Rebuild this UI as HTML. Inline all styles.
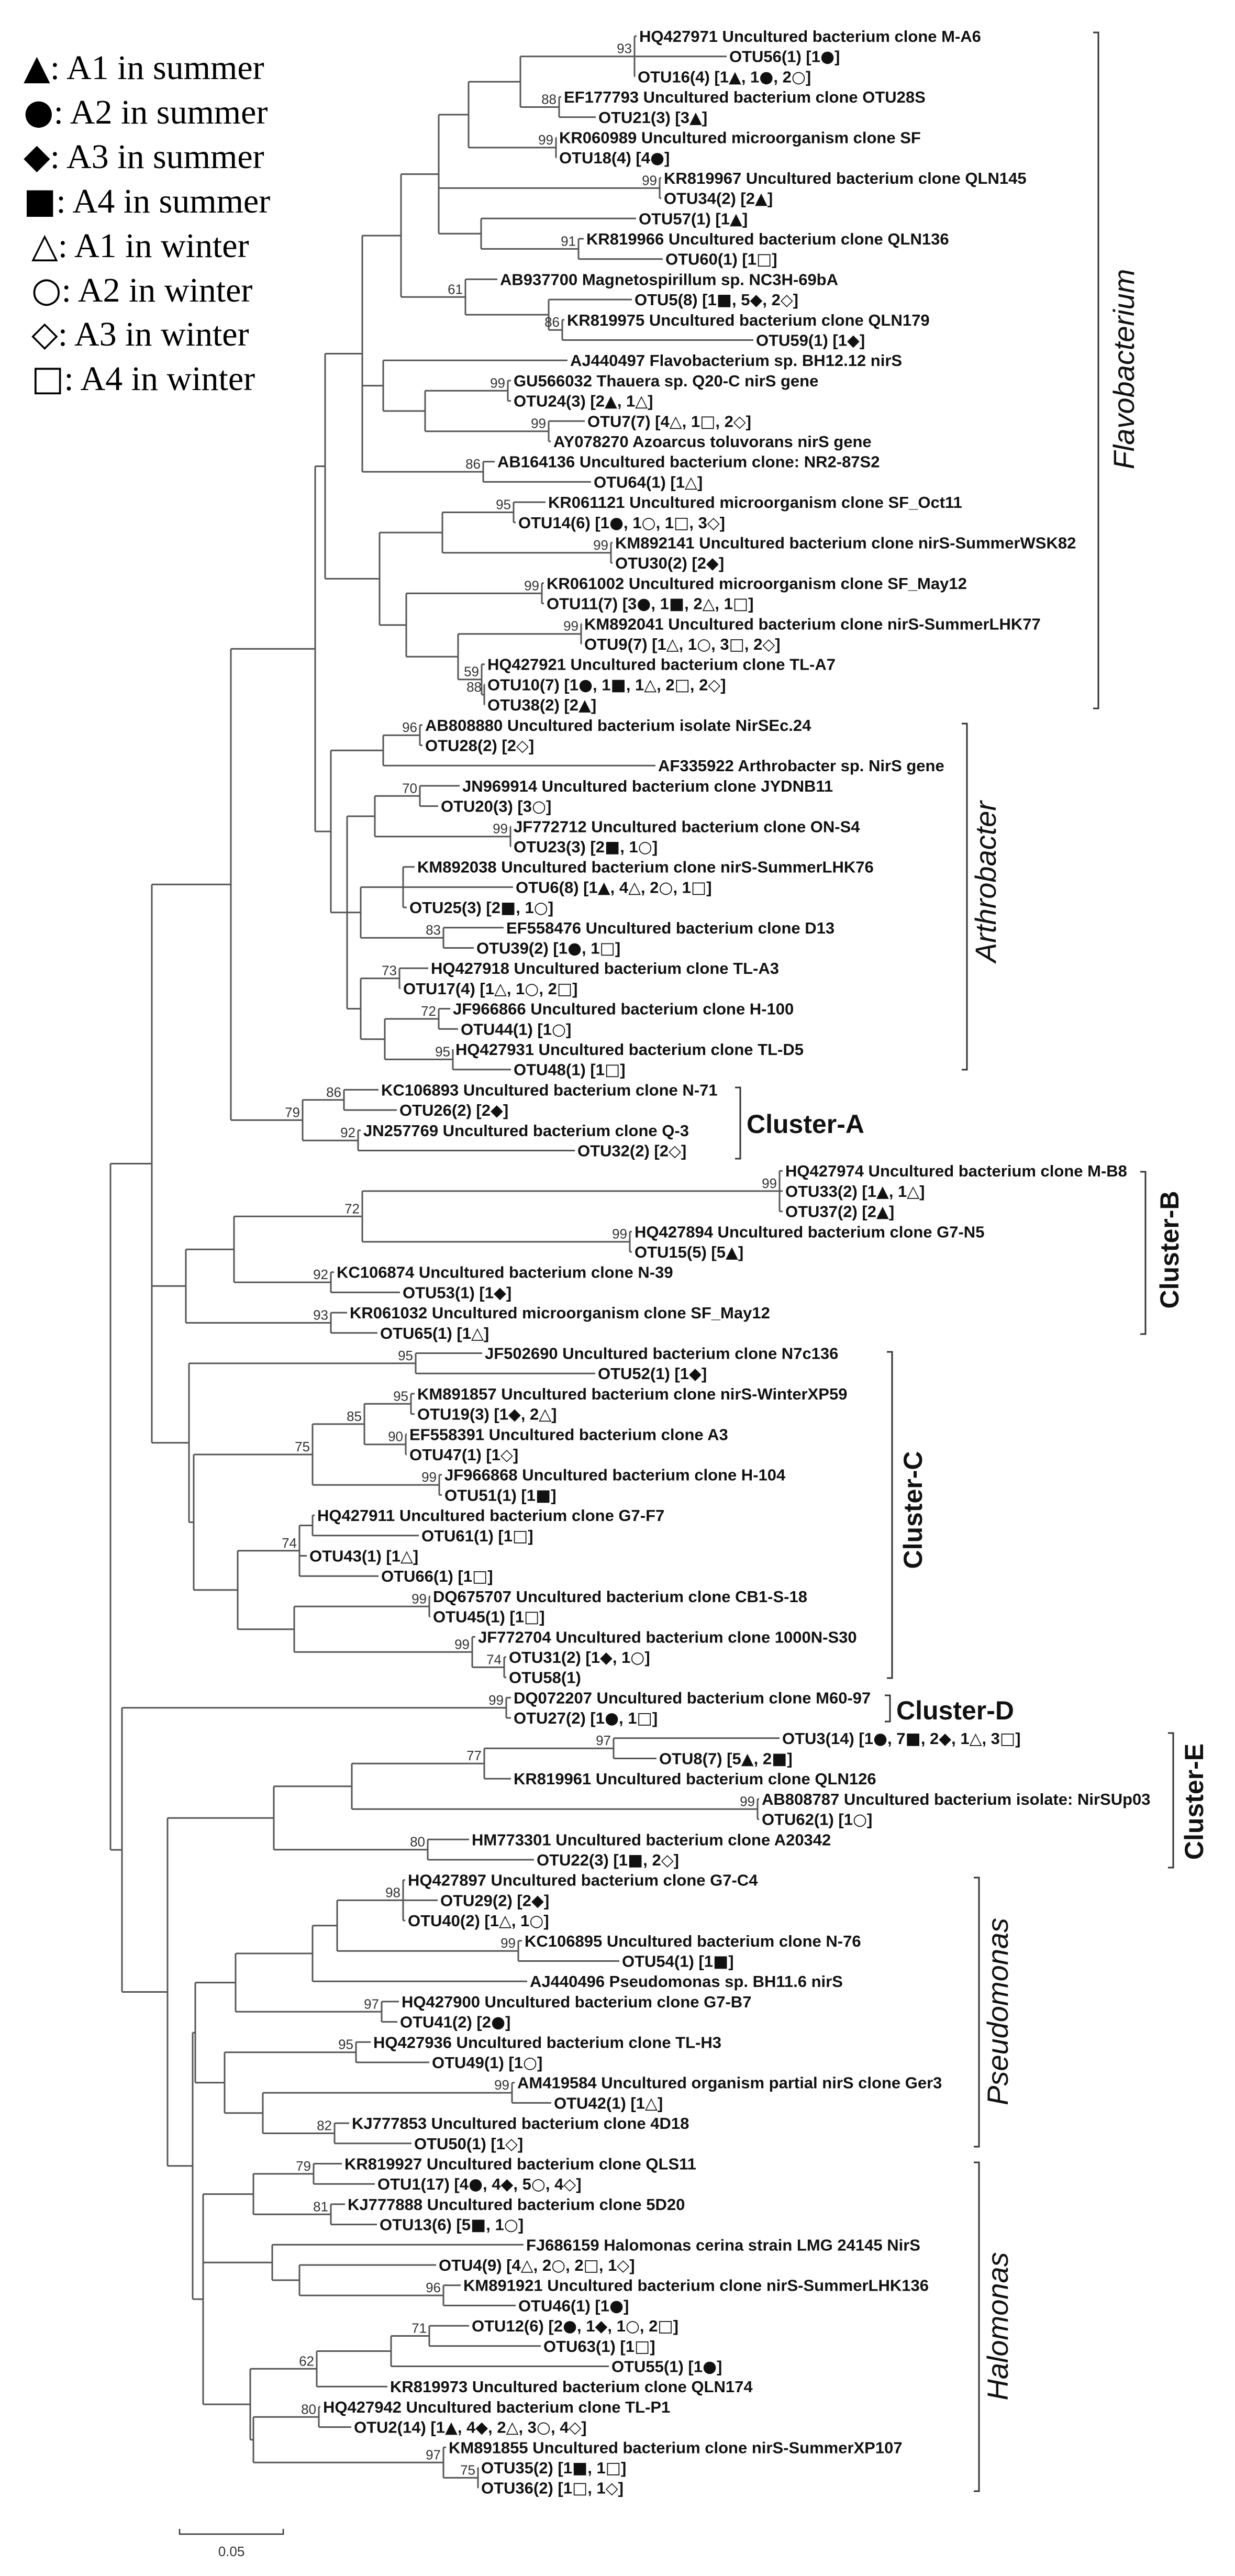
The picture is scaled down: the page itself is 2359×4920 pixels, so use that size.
<!DOCTYPE html>
<html><head><meta charset="utf-8">
<style>
html,body{margin:0;padding:0;background:#fff;}
svg{display:block;}
.lf{font-family:"Liberation Sans","DejaVu Sans",sans-serif;font-weight:bold;font-size:31px;fill:#111;}
.bs{font-family:"Liberation Sans","DejaVu Sans",sans-serif;font-size:26px;fill:#333;}
.lg{font-family:"Liberation Serif","DejaVu Serif",serif;font-size:66px;fill:#000;}
.sy{font-family:"DejaVu Sans",sans-serif;}
.cl{font-family:"Liberation Sans","DejaVu Sans",sans-serif;font-size:56px;font-style:italic;fill:#111;}
.cb{font-family:"Liberation Sans","DejaVu Sans",sans-serif;font-size:50px;font-weight:bold;fill:#111;}
</style></head>
<body>
<svg id="s" xmlns="http://www.w3.org/2000/svg" width="2359" height="4920" viewBox="0 0 2359 4920">
<rect width="2359" height="4920" fill="#fff"/>
<g class="lg">
<text x="45" y="151"><tspan class="sy">▲</tspan>: A1 in summer</text>
<text x="45" y="236"><tspan class="sy">●</tspan>: A2 in summer</text>
<text x="45" y="321"><tspan class="sy">◆</tspan>: A3 in summer</text>
<text x="45" y="406"><tspan class="sy">■</tspan>: A4 in summer</text>
<text x="60" y="491"><tspan class="sy">△</tspan>: A1 in winter</text>
<text x="60" y="576"><tspan class="sy">○</tspan>: A2 in winter</text>
<text x="60" y="660"><tspan class="sy">◇</tspan>: A3 in winter</text>
<text x="60" y="745"><tspan class="sy">□</tspan>: A4 in winter</text>
</g>
<g id="tree"></g>
<g fill="none" stroke="#333" stroke-width="3">
<path d="M2088 62H2098V1353H2088"/>
<path d="M1837 1382H1847V2043H1837"/>
<path d="M1404 2077H1414V2213H1404"/>
<path d="M2178 2238H2188V2548H2178"/>
<path d="M1694 2582H1704V3205H1694"/>
<path d="M1690 3238H1700V3288H1690"/>
<path d="M2231 3310H2241V3567H2231"/>
<path d="M1860 3586H1870V4100H1860"/>
<path d="M1860 4130H1870V4758H1860"/>
<path d="M343 4830V4840H541V4830" stroke-width="2.5"/>
</g>
<text class="bs" x="442" y="4882" text-anchor="middle">0.05</text>
<text class="cl" transform="translate(2166,705) rotate(-90)" text-anchor="middle">Flavobacterium</text>
<text class="cl" transform="translate(1902,1684) rotate(-90)" text-anchor="middle">Arthrobacter</text>
<text class="cl" transform="translate(1925,3842) rotate(-90)" text-anchor="middle">Pseudomonas</text>
<text class="cl" transform="translate(1925,4443) rotate(-90)" text-anchor="middle">Halomonas</text>
<text class="cb" x="1426" y="2164">Cluster-A</text>
<text class="cb" transform="translate(2251,2387) rotate(-90)" text-anchor="middle">Cluster-B</text>
<text class="cb" transform="translate(1761,2884) rotate(-90)" text-anchor="middle">Cluster-C</text>
<text class="cb" x="1712" y="3284">Cluster-D</text>
<text class="cb" transform="translate(2298,3441) rotate(-90)" text-anchor="middle">Cluster-E</text>
</svg>
<script>
(function(){
var L=[
["HQ427971 Uncultured bacterium clone M-A6",1221],["OTU56(1) [1●]",1393],["OTU16(4) [1▲, 1●, 2○]",1218],
["EF177793 Uncultured bacterium clone OTU28S",1077],["OTU21(3) [3▲]",1143],["KR060989 Uncultured microorganism clone SF",1068],
["OTU18(4) [4●]",1068],["KR819967 Uncultured bacterium clone QLN145",1268],["OTU34(2) [2▲]",1268],
["OTU57(1) [1▲]",1220],["KR819966 Uncultured bacterium clone QLN136",1120],["OTU60(1) [1□]",1271],
["AB937700 Magnetospirillum sp. NC3H-69bA",955],["OTU5(8) [1■, 5◆, 2◇]",1212],["KR819975 Uncultured bacterium clone QLN179",1083],
["OTU59(1) [1◆]",1444],["AJ440497 Flavobacterium sp. BH12.12 nirS",1089],["GU566032 Thauera sp. Q20-C nirS gene",981],
["OTU24(3) [2▲, 1△]",981],["OTU7(7) [4△, 1□, 2◇]",1122],["AY078270 Azoarcus toluvorans nirS gene",1057],
["AB164136 Uncultured bacterium clone: NR2-87S2",950],["OTU64(1) [1△]",1134],["KR061121 Uncultured microorganism clone SF_Oct11",1047],
["OTU14(6) [1●, 1○, 1□, 3◇]",990],["KM892141 Uncultured bacterium clone nirS-SummerWSK82",1175],["OTU30(2) [2◆]",1175],
["KR061002 Uncultured microorganism clone SF_May12",1044],["OTU11(7) [3●, 1■, 2△, 1□]",1044],["KM892041 Uncultured bacterium clone nirS-SummerLHK77",1116],
["OTU9(7) [1△, 1○, 3□, 2◇]",1116],["HQ427921 Uncultured bacterium clone TL-A7",931],["OTU10(7) [1●, 1■, 1△, 2□, 2◇]",931],
["OTU38(2) [2▲]",931],["AB808880 Uncultured bacterium isolate NirSEc.24",812],["OTU28(2) [2◇]",812],
["AF335922 Arthrobacter sp. NirS gene",1257],["JN969914 Uncultured bacterium clone JYDNB11",883],["OTU20(3) [3○]",842],
["JF772712 Uncultured bacterium clone ON-S4",981],["OTU23(3) [2■, 1○]",981],["KM892038 Uncultured bacterium clone nirS-SummerLHK76",797],
["OTU6(8) [1▲, 4△, 2○, 1□]",985],["OTU25(3) [2■, 1○]",782],["EF558476 Uncultured bacterium clone D13",967],
["OTU39(2) [1●, 1□]",910],["HQ427918 Uncultured bacterium clone TL-A3",823],["OTU17(4) [1△, 1○, 2□]",770],
["JF966866 Uncultured bacterium clone H-100",865],["OTU44(1) [1○]",880],["HQ427931 Uncultured bacterium clone TL-D5",870],
["OTU48(1) [1□]",981],["KC106893 Uncultured bacterium clone N-71",728],["OTU26(2) [2◆]",763],
["JN257769 Uncultured bacterium clone Q-3",694],["OTU32(2) [2◇]",1103],["HQ427974 Uncultured bacterium clone M-B8",1500],
["OTU33(2) [1▲, 1△]",1500],["OTU37(2) [2▲]",1500],["HQ427894 Uncultured bacterium clone G7-N5",1212],
["OTU15(5) [5▲]",1212],["KC106874 Uncultured bacterium clone N-39",643],["OTU53(1) [1◆]",769],
["KR061032 Uncultured microorganism clone SF_May12",668],["OTU65(1) [1△]",726],["JF502690 Uncultured bacterium clone N7c136",926],
["OTU52(1) [1◆]",1142],["KM891857 Uncultured bacterium clone nirS-WinterXP59",797],["OTU19(3) [1◆, 2△]",797],
["EF558391 Uncultured bacterium clone A3",782],["OTU47(1) [1◇]",782],["JF966868 Uncultured bacterium clone H-104",849],
["OTU51(1) [1■]",849],["HQ427911 Uncultured bacterium clone G7-F7",606],["OTU61(1) [1□]",805],
["OTU43(1) [1△]",591],["OTU66(1) [1□]",728],["DQ675707 Uncultured bacterium clone CB1-S-18",827],
["OTU45(1) [1□]",827],["JF772704 Uncultured bacterium clone 1000N-S30",913],["OTU31(2) [1◆, 1○]",972],
["OTU58(1)",972],["DQ072207 Uncultured bacterium clone M60-97",981],["OTU27(2) [1●, 1□]",981],
["OTU3(14) [1●, 7■, 2◆, 1△, 3□]",1494],["OTU8(7) [5▲, 2■]",1259],["KR819961 Uncultured bacterium clone QLN126",981],
["AB808787 Uncultured bacterium isolate: NirSUp03",1455],["OTU62(1) [1○]",1455],["HM773301 Uncultured bacterium clone A20342",901],
["OTU22(3) [1■, 2◇]",1025],["HQ427897 Uncultured bacterium clone G7-C4",779],["OTU29(2) [2◆]",841],
["OTU40(2) [1△, 1○]",779],["KC106895 Uncultured bacterium clone N-76",1002],["OTU54(1) [1■]",1188],
["AJ440496 Pseudomonas sp. BH11.6 nirS",1012],["HQ427900 Uncultured bacterium clone G7-B7",767],["OTU41(2) [2●]",764],
["HQ427936 Uncultured bacterium clone TL-H3",713],["OTU49(1) [1○]",825],["AM419584 Uncultured organism partial nirS clone Ger3",988],
["OTU42(1) [1△]",1058],["KJ777853 Uncultured bacterium clone 4D18",672],["OTU50(1) [1◇]",791],
["KR819927 Uncultured bacterium clone QLS11",658],["OTU1(17) [4●, 4◆, 5○, 4◇]",721],["KJ777888 Uncultured bacterium clone 5D20",664],
["OTU13(6) [5■, 1○]",725],["FJ686159 Halomonas cerina strain LMG 24145 NirS",1005],["OTU4(9) [4△, 2○, 2□, 1◇]",838],
["KM891921 Uncultured bacterium clone nirS-SummerLHK136",885],["OTU46(1) [1●]",990],["OTU12(6) [2●, 1◆, 1○, 2□]",901],
["OTU63(1) [1□]",1038],["OTU55(1) [1●]",1168],["KR819973 Uncultured bacterium clone QLN174",745],
["HQ427942 Uncultured bacterium clone TL-P1",617],["OTU2(14) [1▲, 4◆, 2△, 3○, 4◇]",676],["KM891855 Uncultured bacterium clone nirS-SummerXP107",857],
["OTU35(2) [1■, 1□]",919],["OTU36(2) [1□, 1◇]",919]
];
function Y(i){return 69+38.7*i;}
function N(x,b){return {x:x,b:b,c:Array.prototype.slice.call(arguments,2)};}
var F=N(621,'',
 N(692,'',
  N(766,'',
   N(838,'',
    N(895,'',N(994,'',N(1212,'93',0,1,2),N(1068,'88',3,4)),N(1062,'99',5,6)),
    N(1260,'99',7,8),
    N(919,'',9,N(1105,'91',10,11))),
   N(889,'61',12,N(1048,'',13,N(1074,'86',14,15)))),
  N(732,'',16,N(812,'',N(970,'99',17,18),N(1048,'99',19,20))),
  N(923,'86',21,22)),
 N(725,'',
  N(845,'',N(981,'95',23,24),N(1167,'99',25,26)),
  N(776,'',N(1035,'99',27,28),N(875,'',N(1110,'99',29,30),N(920,'59',31,N(925,'88',32,33))))));
var A=N(632,'',
 N(732,'',N(802,'96',34,35),36),
 N(663,'',
  N(716,'',N(802,'70',37,38),N(975,'99',39,40)),
  N(689,'',N(770,'',41,42,43),N(847,'83',44,45)),
  N(689,'',N(763,'73',46,47),N(735,'',N(838,'72',48,49),N(865,'95',50,51)))));
var CA=N(578,'79',N(657,'86',52,53),N(684,'92',54,55));
var root=N(211,'',
 N(290,'',
  N(441,'',N(602,'',F,A),CA),
  N(355,'',N(447,'',N(692,'72',N(1489,'99',56,57,58),N(1203,'99',59,60)),N(632,'92',61,62)),N(632,'93',63,64)),
  N(361,'',N(794,'95',65,66),
   N(370,'',
    N(597,'75',N(696,'85',N(785,'95',67,68),N(775,'90',69,70)),N(839,'99',71,72)),
    N(454,'',N(572,'74',N(597,'',73,74),75,76),N(562,'',N(820,'99',77,78),N(902,'99',79,N(963,'74',80,81))))))),
 N(233,'',
  N(967,'99',82,83),
  N(320,'',
   N(523,'',N(672,'',N(925,'77',N(1172,'97',84,85),86),N(1447,'99',87,88)),N(817,'80',89,90)),
   N(368,'',
    N(373,'',
     N(450,'',N(597,'',N(644,'',N(770,'98',91,92,93),N(990,'99',94,95)),96),N(729,'97',97,98)),
     N(429,'',N(680,'95',99,100),N(502,'',N(978,'99',101,102),N(639,'82',103,104)))),
    N(388,'',
     N(484,'',N(599,'79',105,106),N(632,'81',107,108)),
     N(520,'',109,N(572,'',110,N(847,'96',111,112))),
     N(478,'',N(605,'62',N(747,'',N(820,'71',113,114),115),116),
      N(484,'',N(609,'80',117,118),N(847,'97',119,N(913,'75',120,121)))))))));
function lay(n){if(typeof n==='number')return Y(n);var ys=n.c.map(lay);n.ys=ys;n.y=(ys[0]+ys[ys.length-1])/2;return n.y;}
lay(root);
var lines=[],texts=[],boots=[];
function esc(s){return s.replace(/&/g,'&amp;').replace(/</g,'&lt;').replace(/([●■◆▲△○◇□])/g,'<tspan class="sy">$1</tspan>');}
function draw(n){
 var y0=n.ys[0],y1=n.ys[n.ys.length-1];
 lines.push('M'+n.x+' '+y0.toFixed(1)+'V'+y1.toFixed(1));
 n.c.forEach(function(c,k){
  var y=n.ys[k];
  if(typeof c==='number'){
   var lx=L[c][1];
   var x2=Math.max(n.x,lx-5);
   lines.push('M'+n.x+' '+y.toFixed(1)+'H'+x2);
   texts.push('<text class="lf" x="'+lx+'" y="'+(y+11).toFixed(1)+'">'+esc(L[c][0])+'</text>');
  } else {
   lines.push('M'+n.x+' '+y.toFixed(1)+'H'+c.x);
   draw(c);
  }
 });
 if(n.b){boots.push('<text class="bs" x="'+(n.x-5)+'" y="'+(n.y-6).toFixed(1)+'" text-anchor="end">'+n.b+'</text>');}
}
draw(root);
var g=document.getElementById('tree');
g.innerHTML='<path d="'+lines.join('')+'" fill="none" stroke="#555" stroke-width="3"/>'+texts.join('')+boots.join('');
})();
</script>
</body></html>
